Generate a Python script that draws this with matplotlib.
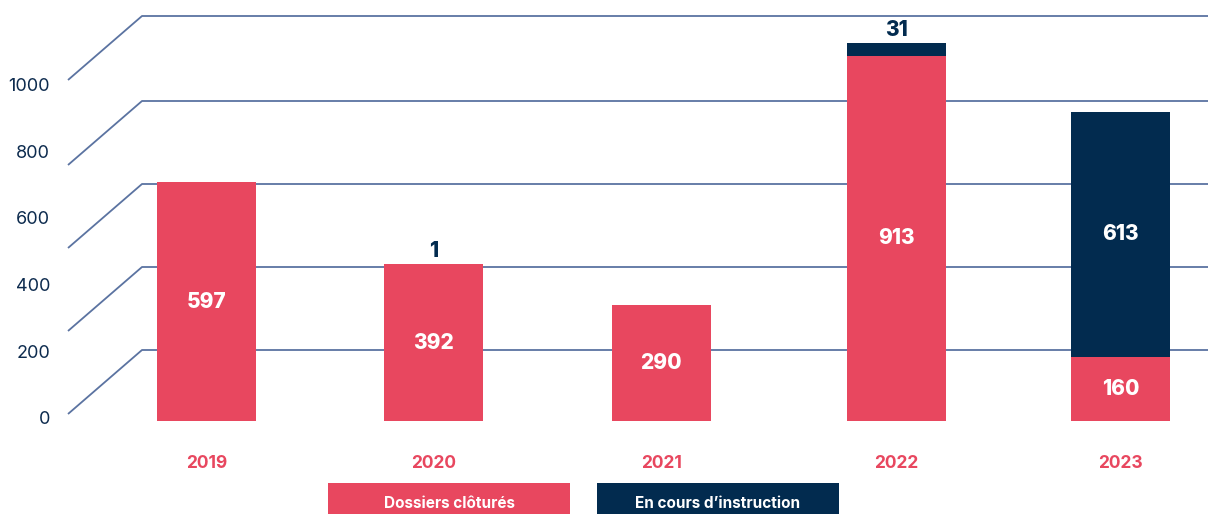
import matplotlib
matplotlib.use('Agg')
import matplotlib.pyplot as plt
from matplotlib.patches import Rectangle

plt.rcParams['font.family'] = ['Inter', 'DejaVu Sans']

# donnees
annees = ['2019', '2020', '2021', '2022', '2023']
clotures = [597, 392, 290, 913, 160]
en_cours = [0, 1, 0, 31, 613]
graduations = [0, 200, 400, 600, 800, 1000]

ROUGE = '#E8475F'
MARINE = '#022B4F'
GRILLE = '#5B73A1'
TEXTE = '#0D2B4E'

W, H = 1208, 514
fig = plt.figure(figsize=(W / 100, H / 100), dpi=100)

# fond : grille en perspective, graduations, legende (coordonnees pixel)
fond = fig.add_axes([0, 0, 1, 1])
fond.set_xlim(0, W)
fond.set_ylim(H, 0)
fond.axis('off')

for y in [350, 267, 184, 101, 16]:
    fond.plot([68, 142, W], [y + 64, y, y], color=GRILLE, lw=1.3,
              solid_capstyle='butt', zorder=1)

for g in graduations:
    fond.text(50, 420 - g / 3.0, str(g), ha='right', va='center',
              fontsize=13, color=TEXTE)

for x0, couleur, nom in [(328, ROUGE, 'Dossiers clôturés'),
                         (597, MARINE, 'En cours d\u2019instruction')]:
    fond.add_patch(Rectangle((x0, 483), 242, 40, color=couleur, lw=0))
    fond.text(x0 + 121, 503, nom, ha='center', va='center', fontsize=11,
              fontweight='bold', color='white')

# barres empilees
ax = fig.add_axes([92 / W, (H - 421) / H, (W - 92) / W, 421 / H])
ax.set_zorder(2)
ax.patch.set_alpha(0)
ax.set_xlim(-0.501, 4.383)
ax.set_ylim(0, 421 / 0.4)
ax.axis('off')

x = [0, 0.995, 1.99, 3.02, 4.0]
larg = 0.433
b1 = ax.bar(x, clotures, width=larg, color=ROUGE, lw=0)
b2 = ax.bar(x, en_cours, width=larg, bottom=clotures, color=MARINE, lw=0)

for i, xi in enumerate(x):
    c, e = clotures[i], en_cours[i]
    ax.text(xi, c / 2, str(c), ha='center', va='center', fontsize=15,
            fontweight='heavy', color='white')
    if e >= 60:
        ax.text(xi, c + e / 2, str(e), ha='center', va='center', fontsize=15,
                fontweight='heavy', color='white')
    elif e > 0:
        ax.text(xi, c + e + 8, str(e), ha='center', va='bottom', fontsize=15,
                fontweight='heavy', color=MARINE)
    ax.text(xi, -105, annees[i], ha='center', va='center', fontsize=12.5,
            fontweight='bold', color=ROUGE, clip_on=False)

fig.savefig('out.png', dpi=100)
